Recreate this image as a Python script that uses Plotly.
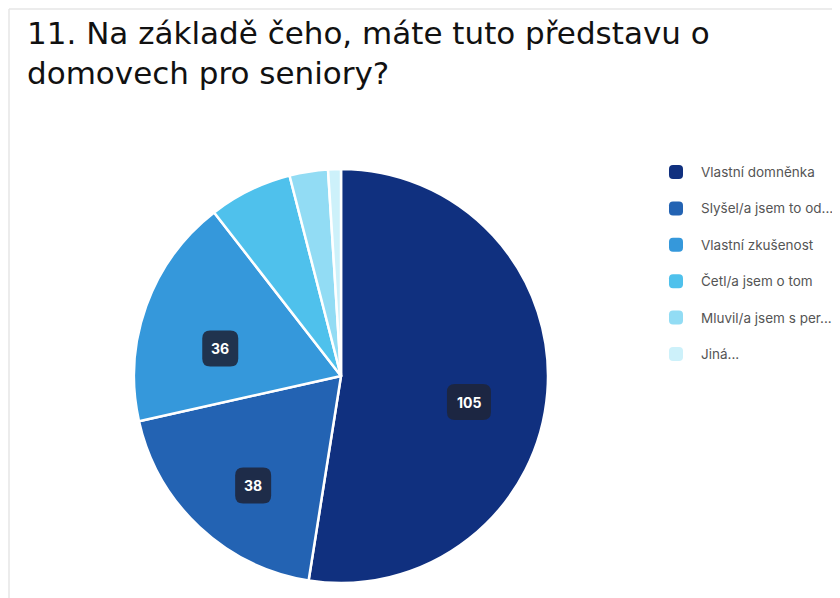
import math
import plotly.graph_objects as go

# ---- data ----
categories = ["Vlastní domněnka", "Slyšel/a jsem to od...", "Vlastní zkušenost",
              "Četl/a jsem o tom", "Mluvil/a jsem s per...", "Jiná..."]
values = [105, 38, 36, 13, 6, 2]
colors = ["#10307F", "#2363B3", "#3598DB", "#4FC1EC", "#92DCF4", "#CDF1FA"]
shown_labels = [True, True, True, False, False, False]

title_text = "11. Na základě čeho, máte tuto představu o<br>domovech pro seniory?"

# page body has an 8px margin; figure is sized to fill the rest of the window
OFF = 8
W, H = 840 - OFF, 598 - OFF
# pie geometry (window pixels)
cx, cy, R = 341, 376, 207


def px_x(x):
    return (x - OFF) / W


def px_y(y):
    return 1 - (y - OFF) / H


def rounded_rect_path(x0, y0, x1, y1, r):
    """Rounded rectangle path in paper coords from window-pixel box."""
    pts = []
    pts.append("M %f,%f" % (px_x(x0 + r), px_y(y0)))
    pts.append("L %f,%f" % (px_x(x1 - r), px_y(y0)))
    pts.append("Q %f,%f %f,%f" % (px_x(x1), px_y(y0), px_x(x1), px_y(y0 + r)))
    pts.append("L %f,%f" % (px_x(x1), px_y(y1 - r)))
    pts.append("Q %f,%f %f,%f" % (px_x(x1), px_y(y1), px_x(x1 - r), px_y(y1)))
    pts.append("L %f,%f" % (px_x(x0 + r), px_y(y1)))
    pts.append("Q %f,%f %f,%f" % (px_x(x0), px_y(y1), px_x(x0), px_y(y1 - r)))
    pts.append("L %f,%f" % (px_x(x0), px_y(y0 + r)))
    pts.append("Q %f,%f %f,%f Z" % (px_x(x0), px_y(y0), px_x(x0 + r), px_y(y0)))
    return " ".join(pts)


fig = go.Figure()
fig.add_trace(go.Pie(
    labels=categories,
    values=values,
    sort=False,
    direction="clockwise",
    rotation=0,
    marker=dict(colors=colors, line=dict(color="white", width=2.5)),
    textinfo="none",
    hoverinfo="label+value",
    showlegend=False,
    domain=dict(x=[px_x(cx - R), px_x(cx + R)], y=[px_y(cy + R), px_y(cy - R)]),
))

shapes = []
annotations = []

# card edge
shapes.append(dict(type="line", xref="paper", yref="paper",
                   x0=px_x(9), x1=px_x(9), y0=0, y1=px_y(9),
                   line=dict(color="#e6e6e6", width=1.5), layer="below"))
shapes.append(dict(type="line", xref="paper", yref="paper",
                   x0=px_x(9), x1=1, y0=px_y(9), y1=px_y(9),
                   line=dict(color="#e6e6e6", width=1.5), layer="below"))

# value labels at slice mid-angles
total = sum(values)
cum = 0
for v, show in zip(values, shown_labels):
    mid = (cum + v / 2) / total * 2 * math.pi
    cum += v
    if not show:
        continue
    r = 0.62 * R
    lx = cx + r * math.sin(mid)
    ly = cy - r * math.cos(mid) + 16
    bw = 44 if v >= 100 else 36
    bh = 36
    shapes.append(dict(type="path", xref="paper", yref="paper",
                       path=rounded_rect_path(lx - bw / 2, ly - bh / 2, lx + bw / 2, ly + bh / 2, 8),
                       fillcolor="rgba(30,36,58,0.88)", line=dict(width=0)))
    annotations.append(dict(
        x=px_x(lx), y=px_y(ly), xref="paper", yref="paper",
        text="<b>%d</b>" % v, showarrow=False,
        font=dict(family="Inter, Open Sans, sans-serif", size=14, color="white"),
        xanchor="center", yanchor="middle",
    ))

# custom legend
leg_x, leg_y0, leg_dy = 676, 172, 36.4
for i, (lab, col) in enumerate(zip(categories, colors)):
    yy = leg_y0 + i * leg_dy
    shapes.append(dict(type="path", xref="paper", yref="paper",
                       path=rounded_rect_path(leg_x - 7, yy - 7, leg_x + 7, yy + 7, 4),
                       fillcolor=col, line=dict(width=0)))
    annotations.append(dict(
        x=px_x(leg_x + 23), y=px_y(yy), xref="paper", yref="paper",
        text=lab, showarrow=False, xanchor="left", yanchor="middle",
        font=dict(family="Inter, Open Sans, sans-serif", size=13.5, color="#555555"),
    ))

# title
annotations.append(dict(
    x=px_x(25), y=px_y(13), xref="paper", yref="paper",
    text=title_text, showarrow=False, xanchor="left", yanchor="top", align="left",
    font=dict(family="DejaVu Sans, sans-serif", size=31, color="#111111"),
))

fig.update_layout(
    width=W, height=H,
    margin=dict(l=0, r=0, t=0, b=0),
    paper_bgcolor="white",
    plot_bgcolor="white",
    shapes=shapes,
    annotations=annotations,
    showlegend=False,
)

fig.write_html("out.html")
